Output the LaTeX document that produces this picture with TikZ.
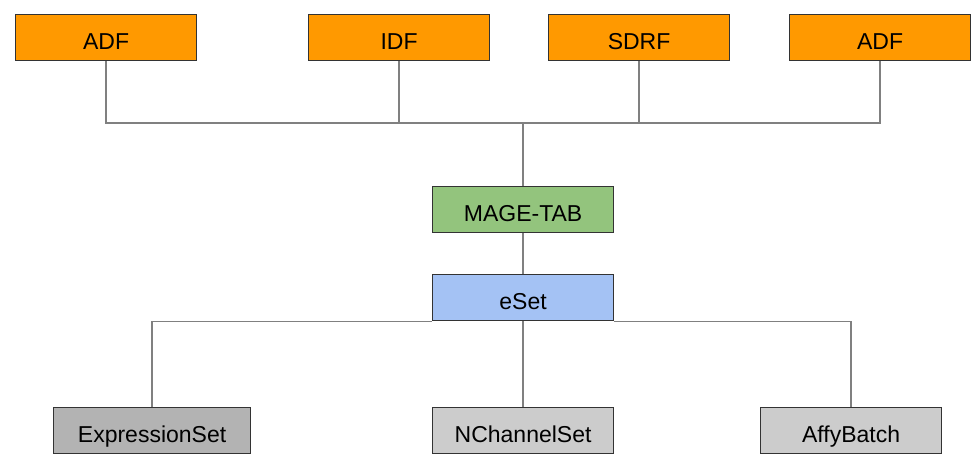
\documentclass[tikz,border=0pt]{standalone}
\usepackage{fontspec}
\setmainfont{Liberation Sans}
\begin{document}
\begin{tikzpicture}[x=1pt,y=-1pt,
  box/.style={draw=black!80, line width=1.2pt, minimum width=181pt, minimum height=46pt, inner sep=0pt, text height=23pt, text depth=0pt, font=\fontsize{23}{27}\selectfont, anchor=north west},
  link/.style={draw=black!50, line width=1.3pt}]
\definecolor{orng}{HTML}{FF9900}
\definecolor{grn}{HTML}{93C47D}
\definecolor{blu}{HTML}{A4C2F4}
\definecolor{gryd}{HTML}{B3B3B3}
\definecolor{gryl}{HTML}{CCCCCC}
\useasboundingbox (0,0) rectangle (975,464);
\node[box, fill=orng] (adfa) at (15,14) {ADF};
\node[box, fill=orng] (idf) at (308,14) {IDF};
\node[box, fill=orng] (sdrf) at (548,14) {SDRF};
\node[box, fill=orng] (adfb) at (789,14) {ADF};
\node[box, fill=grn] (mage) at (432,186) {MAGE-TAB};
\node[box, fill=blu] (eset) at (432,274) {eSet};
\node[box, fill=gryd, minimum width=197pt] (expr) at (53,407) {ExpressionSet};
\node[box, fill=gryl] (nch) at (432,407) {NChannelSet};
\node[box, fill=gryl] (affy) at (760,407) {AffyBatch};
\coordinate (jt) at (mage.north |- 0,123);
\draw[link] (adfa.south) |- (jt);
\draw[link] (idf.south) |- (jt);
\draw[link] (sdrf.south) |- (jt);
\draw[link] (adfb.south) |- (jt);
\draw[link] (jt) -- (mage.north);
\draw[link] (mage.south) -- (eset.north);
\draw[link] (eset.south) -- (nch.north);
\draw[link] (expr.north) |- (eset.south west);
\draw[link] (affy.north) |- (eset.south east);
\end{tikzpicture}
\end{document}
